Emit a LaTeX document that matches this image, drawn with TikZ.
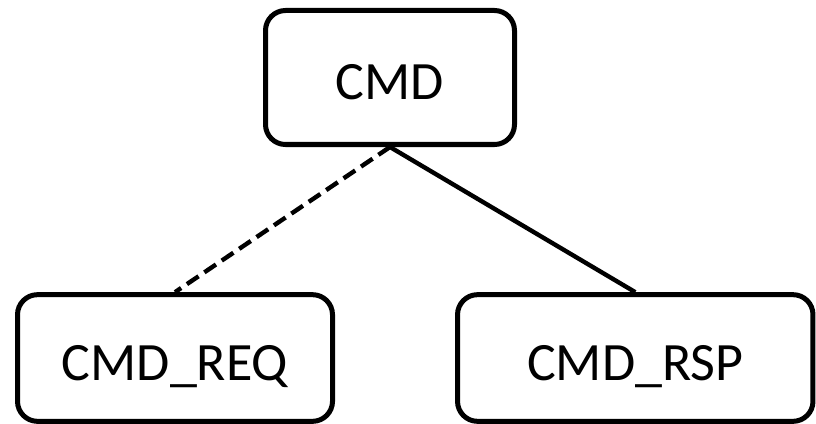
\documentclass[tikz,border=0pt]{standalone}
\usepackage{fontspec}
\setmainfont{Carlito}
\begin{document}
\begin{tikzpicture}[x=0.75pt,y=-0.75pt,
	box/.style={draw, line width=3.75pt, rounded corners=15pt, font=\fontsize{40.5}{48}\selectfont, inner sep=0pt, text height=33.5pt, text depth=0pt},
	link/.style={line width=3.3pt}]
	\useasboundingbox (0,0) rectangle (816,424);
			\node[box, minimum width=186.75pt, minimum height=100.5pt] (CMD) at (390,77.5) {CMD};
			\node[box, minimum width=236.25pt, minimum height=95pt] (REQ) at (175,358) {CMD\_REQ};
			\node[box, minimum width=266.6pt, minimum height=95pt] (RSP) at (635.25,358) {CMD\_RSP};
			\draw[link, dash pattern=on 10.5pt off 5.25pt] (CMD.south) -- (REQ.north);
			\draw[link] (CMD.south) -- (RSP.north);
\end{tikzpicture}
\end{document}
